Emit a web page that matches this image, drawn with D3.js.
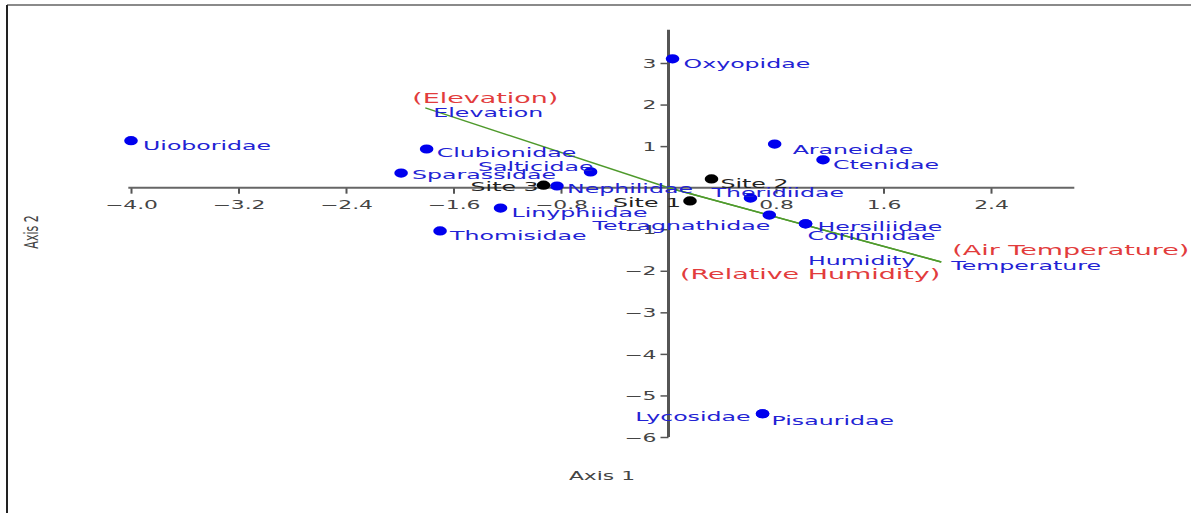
<!DOCTYPE html>
<html><head><meta charset="utf-8">
<script src="https://cdn.jsdelivr.net/npm/d3@7"></script>
<style>html,body{margin:0;padding:0;background:#fff;}svg{display:block;}</style>
</head><body>
<svg id="chart" width="1191" height="513"></svg>
<script>
// ---- data ----
const speciesNames = ["Uioboridae","Clubionidae","Sparassidae","Salticidae","Nephilidae","Theridiidae","Linyphiidae","Tetragnathidae","Hersiliidae","Corinnidae","Thomisidae","Araneidae","Ctenidae","Oxyopidae","Lycosidae","Pisauridae"];
const speciesAxis1 = [-4.00,-1.80,-1.99,-0.58,-0.83,0.61,-1.25,0.75,1.02,1.02,-1.70,0.79,1.15,0.03,0.70,0.70];
const speciesAxis2 = [1.13,0.93,0.35,0.38,0.04,-0.25,-0.49,-0.66,-0.87,-0.87,-1.04,1.05,0.67,3.10,-5.44,-5.44];
const siteNames = ["Site 1","Site 2","Site 3"];
const siteAxis1 = [0.16,0.32,-0.93];
const siteAxis2 = [-0.32,0.21,0.06];
const envNames = ["Elevation","Temperature","Humidity"];
const envFullNames = ["(Elevation)","(Air Temperature)","(Relative Humidity)"];
const envAxis1 = [-1.81,2.03,2.03];
const envAxis2 = [1.92,-1.79,-1.79];
const xTickValues = [-4.0,-3.2,-2.4,-1.6,-0.8,0.8,1.6,2.4];
const yTickValues = [3,2,1,-1,-2,-3,-4,-5,-6];
const xTitle = "Axis 1", yTitle = "Axis 2";

// ---- label layout (anchor, dx, dy in px) ----
const labelLayout = {
  "Uioboridae":["start",12,9],"Clubionidae":["start",10,8],"Sparassidae":["start",11,6],
  "Salticidae":["end",3,-1],"Nephilidae":["start",10,7],"Theridiidae":["start",-39,-1],
  "Linyphiidae":["start",11,9],"Tetragnathidae":["end",1,15],"Hersiliidae":["start",12,7],
  "Corinnidae":["start",2,16],"Thomisidae":["start",10,9],"Araneidae":["start",18,10],
  "Ctenidae":["start",10,9],"Oxyopidae":["start",11,9],"Lycosidae":["end",-12,7],
  "Pisauridae":["start",9,11],
  "Site 1":["end",-9,6],"Site 2":["start",9,9],"Site 3":["end",-5,6]
};
const envLayout = {
  "Elevation":{name:["middle",63,9],full:["middle",60,-5]},
  "Temperature":{name:["start",10,8],full:["start",11,-7]},
  "Humidity":{name:["end",-26,3],full:["end",-1,17]}
};

const SX = 1.82; // horizontal stretch of the glyphs
const FONT = "'DejaVu Sans', Verdana, sans-serif";
const BLUE_TXT = "#2222d4", BLUE_DOT = "#0000ee", RED_TXT = "#e23c3c";

const svg = d3.select("#chart");
const x = d3.scaleLinear().domain([-4, 2.4]).range([131, 991]);
const y = d3.scaleLinear().domain([3, -6]).range([63, 437]);

function txt(g, px, py, s, anchor, color, size) {
  return g.append("text")
    .attr("transform", `translate(${px},${py}) scale(${SX},1)`)
    .attr("text-anchor", anchor)
    .attr("font-family", FONT).attr("font-size", size)
    .attr("fill", color).text(s);
}

// frame
svg.append("line").attr("x1",7).attr("x2",1191).attr("y1",5).attr("y2",5).attr("stroke","#8a8a8a").attr("stroke-width",2);
svg.append("line").attr("x1",7).attr("x2",7).attr("y1",5).attr("y2",513).attr("stroke","#222").attr("stroke-width",2);

// axes
const xAxisG = svg.append("g").attr("transform", `translate(0,${y(0)})`)
  .call(d3.axisBottom(x).tickValues(xTickValues).tickFormat(d3.format(".1f")).tickSize(6).tickSizeOuter(0));
xAxisG.select(".domain").remove();
xAxisG.selectAll(".tick line").attr("stroke","#555").attr("stroke-width",2);
xAxisG.selectAll(".tick text")
  .attr("transform", `scale(${SX},1)`).attr("y", 17).attr("dy","0.32em")
  .attr("font-family", FONT).attr("font-size", 12).attr("fill","#444");
xAxisG.append("line").attr("x1", x(-4.02)).attr("x2", x(3.02)).attr("y1",0).attr("y2",0)
  .attr("stroke","#666").attr("stroke-width",2);

const yAxisG = svg.append("g").attr("transform", `translate(${x(0)},0)`)
  .call(d3.axisLeft(y).tickValues(yTickValues).tickFormat(d3.format("d")).tickSize(8).tickSizeOuter(0));
yAxisG.select(".domain").remove();
yAxisG.selectAll(".tick line").attr("stroke","#555").attr("stroke-width",1.5);
yAxisG.selectAll(".tick text")
  .attr("transform", `scale(${SX},1)`).attr("x", -12 / SX).attr("dy","0.35em")
  .attr("font-family", FONT).attr("font-size", 12).attr("fill","#444");
yAxisG.append("line").attr("x1",0).attr("x2",0).attr("y1", y(3.8)).attr("y2", y(-6))
  .attr("stroke","#555").attr("stroke-width",3);

// axis titles
txt(svg, 602, 480, xTitle, "middle", "#444", 12);
svg.append("text")
  .attr("transform", `translate(38,232) scale(${SX},1) rotate(-90)`)
  .attr("text-anchor","middle").attr("font-family", FONT).attr("font-size", 11)
  .attr("fill","#444").text(yTitle);

// environmental vectors
const envG = svg.append("g");
envNames.forEach((n, i) => {
  envG.append("line").attr("x1", x(0)).attr("y1", y(0))
    .attr("x2", x(envAxis1[i])).attr("y2", y(envAxis2[i]))
    .attr("stroke", "#4f9a2c").attr("stroke-width", 1.5);
});
envNames.forEach((n, i) => {
  const px = x(envAxis1[i]), py = y(envAxis2[i]);
  const L = envLayout[n];
  txt(envG, px + L.full[1], py + L.full[2], envFullNames[i], L.full[0], RED_TXT, 14.8);
  txt(envG, px + L.name[1], py + L.name[2], n, L.name[0], BLUE_TXT, 13);
});

// species
const spG = svg.append("g");
speciesNames.forEach((n, i) => {
  spG.append("ellipse").attr("cx", x(speciesAxis1[i])).attr("cy", y(speciesAxis2[i]))
    .attr("rx", 6.8).attr("ry", 4.6).attr("fill", BLUE_DOT);
});
speciesNames.forEach((n, i) => {
  const L = labelLayout[n];
  txt(spG, x(speciesAxis1[i]) + L[1], y(speciesAxis2[i]) + L[2], n, L[0], BLUE_TXT, 13);
});

// sites
const stG = svg.append("g");
siteNames.forEach((n, i) => {
  stG.append("ellipse").attr("cx", x(siteAxis1[i])).attr("cy", y(siteAxis2[i]))
    .attr("rx", 6.8).attr("ry", 4.6).attr("fill", "#000");
  const L = labelLayout[n];
  txt(stG, x(siteAxis1[i]) + L[1], y(siteAxis2[i]) + L[2], n, L[0], "#222", 13);
});
</script>
</body></html>
